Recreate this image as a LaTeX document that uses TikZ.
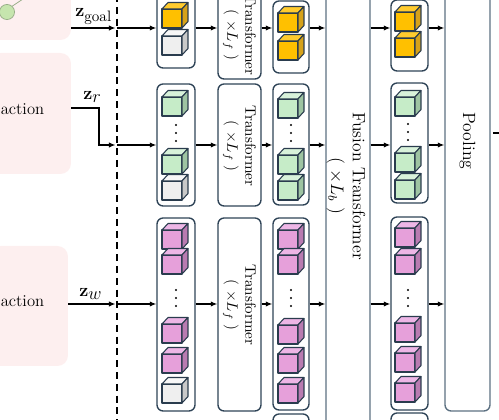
\documentclass[tikz,border=0pt]{standalone}
\usetikzlibrary{arrows.meta,fit}
\definecolor{pinkbg}{HTML}{FDEFEF}
\definecolor{boxline}{HTML}{2F4457}
\definecolor{boxline2}{HTML}{5D7182}
\definecolor{cubeline}{HTML}{2A3C4E}
\definecolor{yelF}{HTML}{FFC000}\definecolor{yelS}{HTML}{D6A21A}\definecolor{yelT}{HTML}{FFCB2E}
\definecolor{gryF}{HTML}{EFEFEF}\definecolor{gryS}{HTML}{C9C9C9}\definecolor{gryT}{HTML}{F7F7F7}
\definecolor{grnF}{HTML}{C6ECC8}\definecolor{grnS}{HTML}{9EC4A2}\definecolor{grnT}{HTML}{D8F2DA}
\definecolor{magF}{HTML}{E6A0DA}\definecolor{magS}{HTML}{B97BB1}\definecolor{magT}{HTML}{EDB6E6}
\definecolor{circF}{HTML}{C6E5AE}\definecolor{circL}{HTML}{98AE88}
\tikzset{
 pinkbox/.style={fill=pinkbg, draw=none, rounded corners=7pt, inner sep=0pt},
 colbox/.style={draw=boxline, line width=0.9pt, fill=white, rounded corners=4pt, inner sep=0pt},
 bigbox/.style={draw=boxline2, line width=0.9pt, fill=white, rounded corners=4pt, inner sep=0pt},
 arr/.style={-{Latex[length=4.3pt,width=3.6pt]}, line width=1pt, black},
 cubeedge/.style={draw=cubeline, line width=0.7pt, line join=round},
 rottext/.style={rotate=-90, align=center, inner sep=0pt},
 lbl/.style={anchor=base west, inner sep=0pt, font=\large},
 bigfont/.style={font=\fontsize{11.7}{14.5}\selectfont},
 acttext/.style={anchor=base east, inner sep=0pt, font=\fontsize{11}{13}\selectfont},
}
\newcommand\mycube[3]{%
 \filldraw[cubeedge, fill=#3F] (#1,#2) rectangle ++(20,19);
 \filldraw[cubeedge, fill=#3T] (#1,#2) -- ++(6,-6.5) -- ++(20,0) -- ++(-6,6.5) -- cycle;
 \filldraw[cubeedge, fill=#3S] (#1+20,#2) -- ++(6,-6.5) -- ++(0,19) -- ++(-6,6.5) -- cycle;
}
\newcommand\mydots[2]{\foreach \dd in {-8,0,8}{\fill (#1,#2+\dd) circle (0.75pt);}}
\begin{document}
\begin{tikzpicture}[x=0.662pt,y=-0.662pt]
\useasboundingbox (0,0) rectangle (499,420);
\begin{scope}
\clip (0,0) rectangle (499,420);
% pink panels
\node[pinkbox, fit={(-10,-20) (71,40)}] (p1) {};
\node[pinkbox, fit={(-10,53) (71,174)}] (p2) {};
\node[pinkbox, fit={(-10,246) (68,366)}] (p3) {};
\node[circle, draw=circL, fill=circF, line width=0.5pt, minimum size=10pt, inner sep=0pt] (gc) at (7,12) {};
\coordinate (gl) at (26,-3);
\draw[circL, line width=0.5pt] (gc.48) -- (gl);
\node[acttext] (a2) at (44.5,115) {action};
\node[acttext] (a3) at (44.5,307) {action};
% labels
\node[lbl] (lg) at (75,17) {$\mathbf{z}_{\mbox{\normalsize goal}}$};
\node[lbl] (lr) at (83,100) {$\mathbf{z}_{\textstyle r}$};
\node[lbl] (lw) at (79,297) {$\mathbf{z}_{\textstyle w}$};
% dashed line
\coordinate (dtop) at (117,-5);
\coordinate (dbot) at (117,425);
\draw[line width=1pt, dash pattern=on 4.6pt off 3.2pt] (dtop) -- (dbot);
\coordinate (d1) at (117,28);
\coordinate (d2) at (117,145);
\coordinate (d3) at (117,304);
% columns
\node[colbox, fit={(157,-10) (195,68)}] (c1a) {};
\node[colbox, fit={(157,84) (195,206)}] (c1b) {};
\node[colbox, fit={(157,218) (195,411)}] (c1c) {};
\node[colbox, fit={(218,-10) (261,79)}] (t1) {};
\node[colbox, fit={(218,84) (261,206)}] (t2) {};
\node[colbox, fit={(218,218) (261,411)}] (t3) {};
\node[colbox, fit={(273,1) (309,73)}] (c2a) {};
\node[colbox, fit={(273,84) (309,205)}] (c2b) {};
\node[colbox, fit={(273,218) (309,410)}] (c2c) {};
\node[colbox, fit={(273,414) (309,440)}] (c2d) {};
\node[bigbox, fit={(326,-10) (370,440)}] (fu) {};
\node[colbox, fit={(391,0) (428,71)}] (c3a) {};
\node[colbox, fit={(391,83) (428,203)}] (c3b) {};
\node[colbox, fit={(391,217) (428,410)}] (c3c) {};
\node[colbox, fit={(391,413) (428,440)}] (c3d) {};
\node[bigbox, fit={(445,-10) (490,411)}] (po) {};
% texts
\node[rottext] (t1x) at (239.5,35) {Transformer\\$(\;\times L_f\;)$};
\node[rottext] (t2x) at (239.5,146) {Transformer\\$(\;\times L_f\;)$};
\node[rottext] (t3x) at (239.5,305) {Transformer\\$(\;\times L_f\;)$};
\node[rottext, bigfont] (fux) at (346,186) {Fusion Transformer\\$(\;\times L_b\;)$};
\node[rottext, bigfont] (pox) at (467.5,141) {Pooling};
% cubes column 1
\mycube{162}{9}{yel}\mycube{162}{36}{gry}
\mycube{162}{97}{grn}\mydots{176}{133}\mycube{162}{155}{grn}\mycube{162}{181}{gry}
\mycube{162}{230}{mag}\mycube{162}{255}{mag}\mydots{176}{298}
\mycube{162}{324}{mag}\mycube{162}{354}{mag}\mycube{162}{384}{gry}
% column 2
\mycube{278}{13}{yel}\mycube{278}{41}{yel}
\mycube{278}{99}{grn}\mydots{291}{133}\mycube{278}{155}{grn}\mycube{278}{181}{grn}
\mycube{278}{230}{mag}\mycube{278}{255}{mag}\mydots{291}{298}
\mycube{278}{325}{mag}\mycube{278}{354}{mag}\mycube{278}{384}{mag}
% column 3
\mycube{395}{12}{yel}\mycube{395}{38}{yel}
\mycube{395}{97}{grn}\mydots{408}{132}\mycube{395}{153}{grn}\mycube{395}{180}{grn}
\mycube{395}{228}{mag}\mycube{395}{255}{mag}\mydots{408}{298}
\mycube{395}{323}{mag}\mycube{395}{353}{mag}\mycube{395}{383}{mag}
% input arrows
\draw[arr, shorten >=1pt] (p1.east |- d1) -- (d1);
\draw[arr] (d1) -- (c1a.west |- d1);
\coordinate (rb) at (99,108);
\draw[arr, shorten >=1pt] (p2.east |- rb) -- (rb) |- (d2);
\draw[arr] (d2) -- (c1b.west |- d2);
\draw[arr, shorten >=1pt] (p3.east |- d3) -- (d3);
\draw[arr] (d3) -- (c1c.west |- d3);
% row arrows
\foreach \r/\a/\b/\c/\d in {d1/c1a/t1/c2a/c3a, d2/c1b/t2/c2b/c3b, d3/c1c/t3/c2c/c3c} {
 \draw[arr] (\a.east |- \r) -- (\b.west |- \r);
 \draw[arr] (\b.east |- \r) -- (\c.west |- \r);
 \draw[arr] (\c.east |- \r) -- (fu.west |- \r);
 \draw[arr] (fu.east |- \r) -- (\d.west |- \r);
 \draw[arr] (\d.east |- \r) -- (po.west |- \r);
}
\coordinate (out) at (510,133);
\draw[arr, shorten <=1.5pt] (po.east |- out) -- (out);
\end{scope}
\end{tikzpicture}
\end{document}
